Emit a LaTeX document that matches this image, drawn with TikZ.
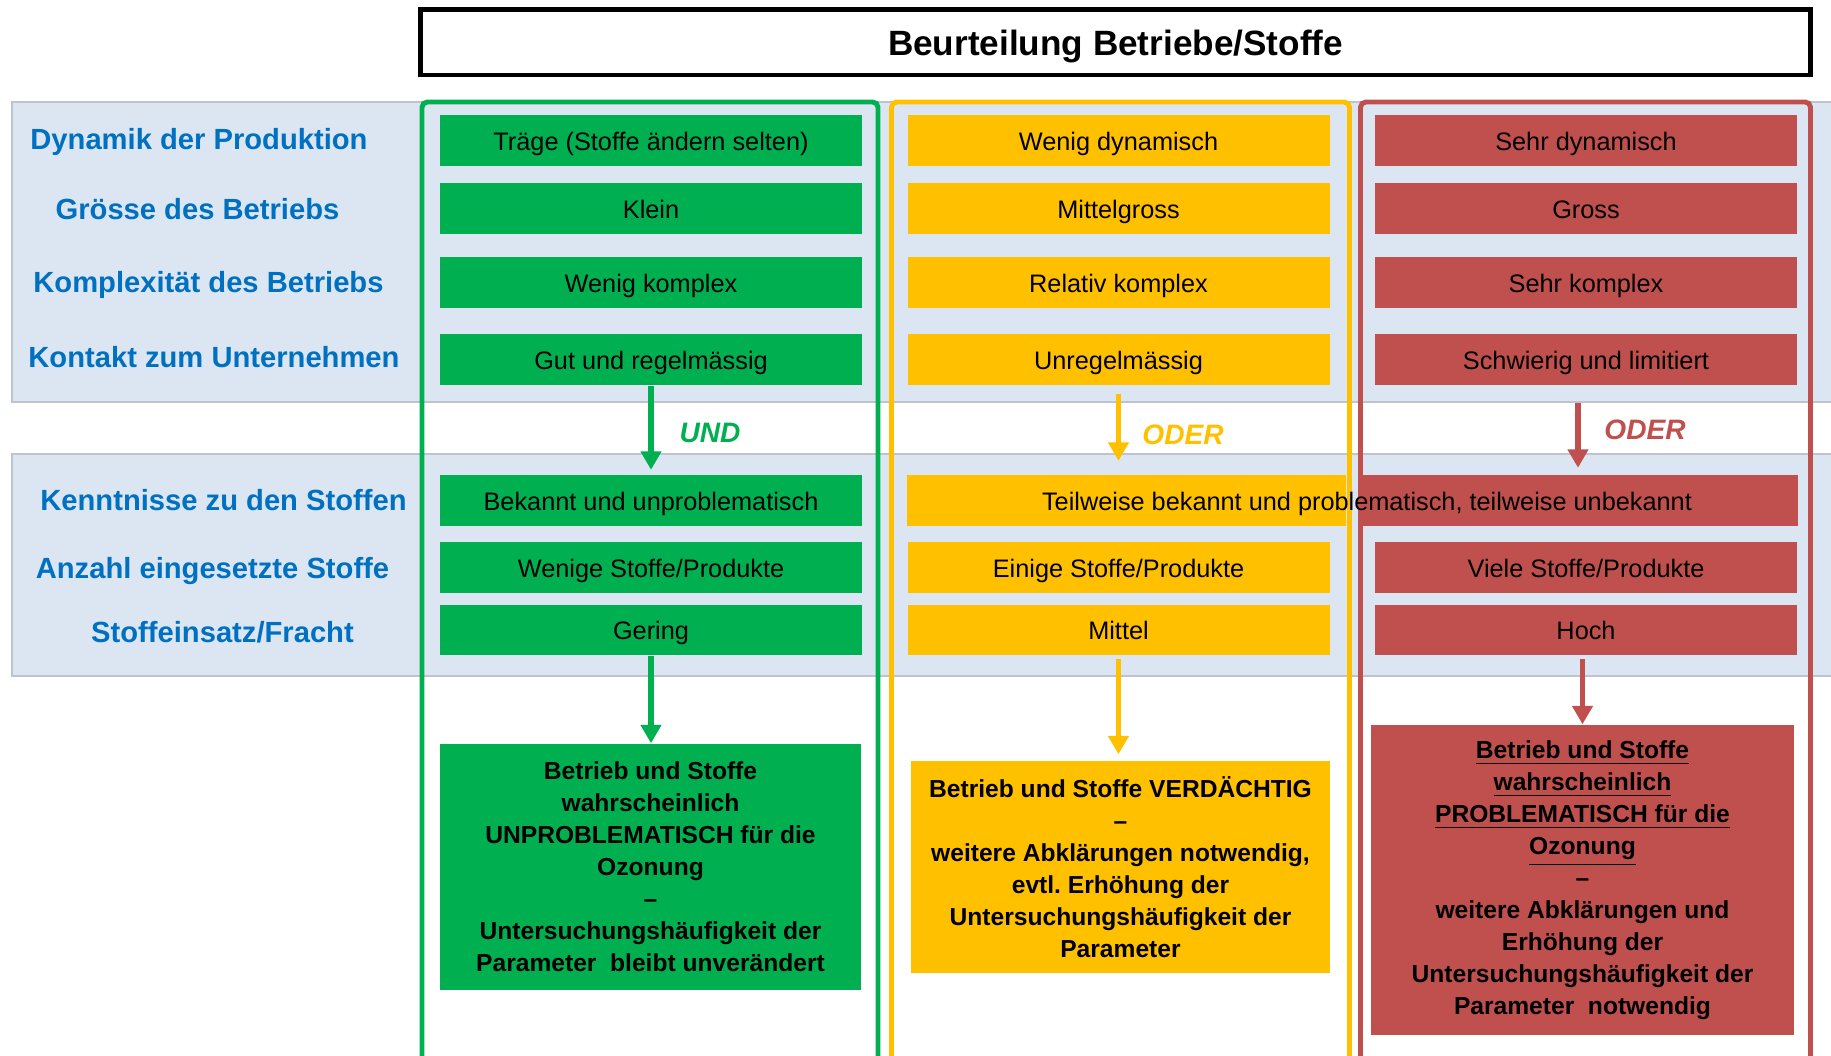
\documentclass[tikz,border=0pt]{standalone}
\usepackage{fontspec}
\setmainfont{Liberation Sans}
\usetikzlibrary{positioning,calc,arrows.meta}
\definecolor{bandblue}{RGB}{220,230,242}
\definecolor{bandline}{RGB}{190,196,206}
\definecolor{okgreen}{RGB}{0,176,80}
\definecolor{midyellow}{RGB}{255,192,0}
\definecolor{badred}{RGB}{192,80,77}
\definecolor{labelblue}{RGB}{0,112,192}

\begin{document}
\begin{tikzpicture}[x=0.1mm,y=-0.1mm,
    cellbox/.style={minimum width=4.22cm,minimum height=0.51cm,inner sep=0pt,text height=5.3pt,text depth=0pt,
        font=\fontsize{7.2}{9}\selectfont},
    gcell/.style={cellbox,fill=okgreen},
    ycell/.style={cellbox,fill=midyellow},
    rcell/.style={cellbox,fill=badred},
    critlabel/.style={text=labelblue,inner sep=0pt,text height=6pt,text depth=0pt,font=\bfseries\fontsize{8.3}{10}\selectfont},
    resbox/.style={align=center,inner sep=0pt,font=\bfseries\fontsize{7}{9.1}\selectfont},
    colframe/.style={line width=1.4pt,rounded corners=1.5pt},
    flowarrow/.style={line width=1.6pt,-{Triangle[width=2mm,length=1.85mm]}},
    joinlabel/.style={inner sep=0pt,font=\bfseries\itshape\fontsize{8}{10}\selectfont}
]
        \useasboundingbox (0,0) rectangle (1831,1056);

        % Bands
        \draw[fill=bandblue,draw=bandline,line width=0.5pt] (12,102) rectangle (1845,402);
        \draw[fill=bandblue,draw=bandline,line width=0.5pt] (12,454) rectangle (1845,676);

        % Title
        \node[draw,line width=1.3pt,minimum width=13.9cm,minimum height=0.655cm,inner sep=0pt,text depth=0pt,
              font=\bfseries\fontsize{10}{12}\selectfont] (title) at (1115.5,42.3) {Beurteilung Betriebe/Stoffe};

        % Frames
        \draw[colframe,okgreen] (422,1070) -- (422,102) -- (878,102) -- (878,1070);
        \draw[colframe,midyellow] (891.5,1070) -- (891.5,102) -- (1349.5,102) -- (1349.5,1070);
        \draw[colframe,badred] (1360.5,1070) -- (1360.5,102) -- (1810.5,102) -- (1810.5,1070);

        % Criteria
        \node[critlabel] (c1) at (199,139) {Dynamik der Produktion};
        \node[critlabel] (c2) at (197.5,209) {Grösse des Betriebs};
        \node[critlabel] (c3) at (208.5,282) {Komplexität des Betriebs};
        \node[critlabel] (c4) at (214,357) {Kontakt zum Unternehmen};
        \node[critlabel] (c5) at (223.5,500) {Kenntnisse zu den Stoffen};
        \node[critlabel] (c6) at (212.5,568) {Anzahl eingesetzte Stoffe};
        \node[critlabel] (c7) at (222.5,632) {Stoffeinsatz/Fracht};

        % Rows
        \foreach \i/\yy/\gt/\yt/\rt in {1/141/{Träge (Stoffe ändern selten)}/{Wenig dynamisch}/{Sehr dynamisch},
                2/209/{Klein}/{Mittelgross}/{Gross},
                3/283/{Wenig komplex}/{Relativ komplex}/{Sehr komplex},
                4/360/{Gut und regelmässig}/{Unregelmässig}/{Schwierig und limitiert},
                6/568/{Wenige Stoffe/Produkte}/{Einige Stoffe/Produkte}/{Viele Stoffe/Produkte},
                7/630/{Gering}/{Mittel}/{Hoch}}{
            \node[gcell] (g\i) at (651,\yy) {\gt};
            \node[ycell] (y\i) at (1118.5,\yy) {\yt};
            \node[rcell] (r\i) at (1586,\yy) {\rt};
        }
        \node[gcell] (g5) at (651,501) {Bekannt und unproblematisch};
        \node[ycell,minimum width=4.39cm] (y5) at (1126.5,501) {};
        \node[rcell,minimum width=4.40cm] (r5) at (1578,501) {};
        \node[cellbox,minimum width=0pt] (t5) at (1367,501) {Teilweise bekannt und problematisch, teilweise unbekannt};

        % Results
        \node[resbox,fill=okgreen,minimum width=4.21cm,minimum height=2.46cm] (gres) at (650.5,867)
            {Betrieb und Stoffe\\wahrscheinlich\\UNPROBLEMATISCH für die\\Ozonung\\–\\Untersuchungshäufigkeit der\\Parameter\ \ bleibt unverändert};
        \node[resbox,fill=midyellow,minimum width=4.19cm,minimum height=2.12cm] (yres) at (1120.5,867)
            {Betrieb und Stoffe VERDÄCHTIG\\–\\weitere Abklärungen notwendig,\\evtl.\ Erhöhung der\\Untersuchungshäufigkeit der\\Parameter};
        \node[resbox,fill=badred,minimum width=4.23cm,minimum height=3.10cm] (rres) at (1582.5,880)
            {\underline{Betrieb und Stoffe}\\\underline{wahrscheinlich}\\\underline{PROBLEMATISCH für die}\\\underline{Ozonung}\\–\\weitere Abklärungen und\\Erhöhung der\\Untersuchungshäufigkeit der\\Parameter\ \ notwendig};

        % Arrows
        \draw[flowarrow,okgreen,shorten >=0.5mm] (g4.south) -- (g4.south |- g5.north);
        \draw[flowarrow,midyellow,shorten <=0.8mm,shorten >=1.4mm] (y4.south) -- (y4.south |- y5.north);
        \draw[flowarrow,badred,shorten <=1.7mm,shorten >=0.7mm] (r4.south -| r5.north) -- (r5.north);
        \draw[flowarrow,okgreen] (g7.south) -- (g7.south |- gres.north);
        \draw[flowarrow,midyellow,shorten <=0.3mm,shorten >=0.6mm] (y7.south) -- (y7.south |- yres.north);
        \draw[flowarrow,badred,shorten <=0.3mm] (r7.south -| rres.north) -- (rres.north);

        \node[joinlabel,text=okgreen] (und) at (710,433) {UND};
        \node[joinlabel,text=midyellow] (oder1) at (1183,435) {ODER};
        \node[joinlabel,text=badred] (oder2) at (1645,430) {ODER};

\end{tikzpicture}
\end{document}
